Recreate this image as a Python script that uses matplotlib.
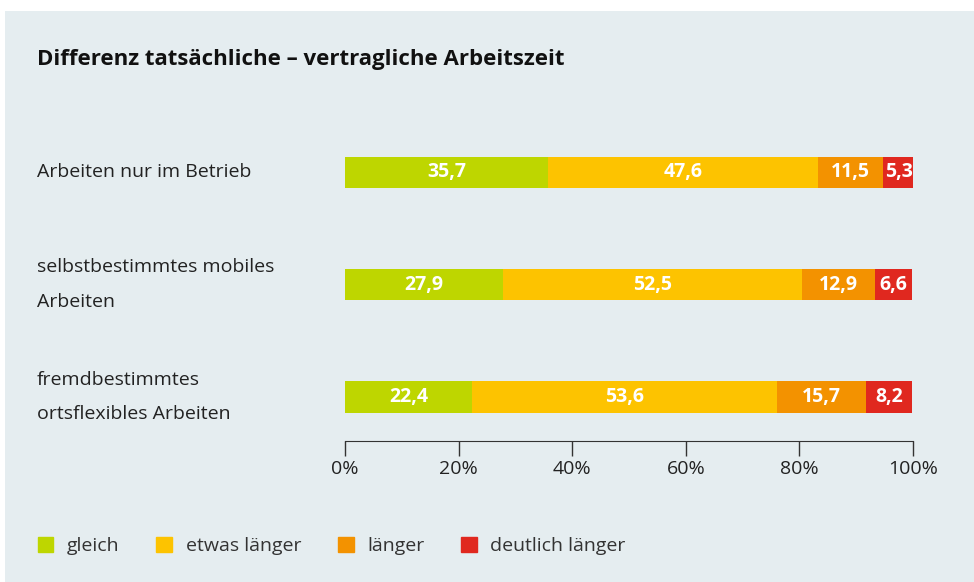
import matplotlib.pyplot as plt
import matplotlib.patches as mpatches
import numpy as np

plt.rcParams['font.family'] = ['Open Sans', 'DejaVu Sans']

categories = ['Arbeiten nur im Betrieb',
              'selbstbestimmtes mobiles\nArbeiten',
              'fremdbestimmtes\nortsflexibles Arbeiten']
series = ['gleich', 'etwas länger', 'länger', 'deutlich länger']
gleich = [35.7, 27.9, 22.4]
etwas = [47.6, 52.5, 53.6]
laenger = [11.5, 12.9, 15.7]
deutlich = [5.3, 6.6, 8.2]
colors = ['#BED600', '#FDC300', '#F39200', '#E0281F']
ticks = [0, 20, 40, 60, 80, 100]

bg = '#E5EDF0'
fig = plt.figure(figsize=(9.74, 5.82), dpi=100)
fig.patches.append(mpatches.Rectangle((5/974, 0), 1, 1 - 11/582, transform=fig.transFigure,
                                      facecolor=bg, edgecolor='none', zorder=-1))

ax = fig.add_axes([345/974, 0.2423, 568/974, 0.578])
ax.set_facecolor('none')

y = np.arange(len(categories))
left = np.zeros(len(categories))
for vals, col in zip([gleich, etwas, laenger, deutlich], colors):
    vals = np.array(vals)
    ax.barh(y, vals, left=left, height=0.276, color=col, edgecolor='none')
    for yi, l, v in zip(y, left, vals):
        ax.text(l + v / 2, yi, f'{v:.1f}'.replace('.', ','), ha='center', va='center',
                color='white', fontsize=14, fontweight='bold')
    left += vals

ax.set_xlim(0, 100)
ax.set_ylim(2.391, -0.6)
ax.set_xticks(ticks)
ax.set_xticklabels([f'{t}%' for t in ticks], fontsize=14, color='#222222')
ax.tick_params(axis='x', direction='out', length=10.8, width=1, color='#333333', pad=3)
ax.set_yticks([])
for s in ['top', 'right', 'left']:
    ax.spines[s].set_visible(False)
ax.spines['bottom'].set_color('#333333')

for yi, cat in zip(y, categories):
    yf = fig.transFigure.inverted().transform(ax.transData.transform((0, yi)))[1]
    fig.text(37/974, yf, cat, ha='left', va='center', fontsize=14, color='#222222',
             linespacing=2.15)

fig.text(37/974, 1 - 60/582, 'Differenz tatsächliche – vertragliche Arbeitszeit',
         ha='left', va='center', fontsize=16, fontweight='bold', color='#111111')

handles = [mpatches.Patch(color=c, label=s) for c, s in zip(colors, series)]
leg = fig.legend(handles=handles, ncol=4, loc='center left', bbox_to_anchor=(24/974, 1 - 546/582),
                 frameon=False, handlelength=0.8, handleheight=0.8, handletextpad=0.7,
                 columnspacing=1.9, fontsize=14, borderpad=0.2)
for t in leg.get_texts():
    t.set_color('#333333')

fig.savefig('out.png', dpi=100)
